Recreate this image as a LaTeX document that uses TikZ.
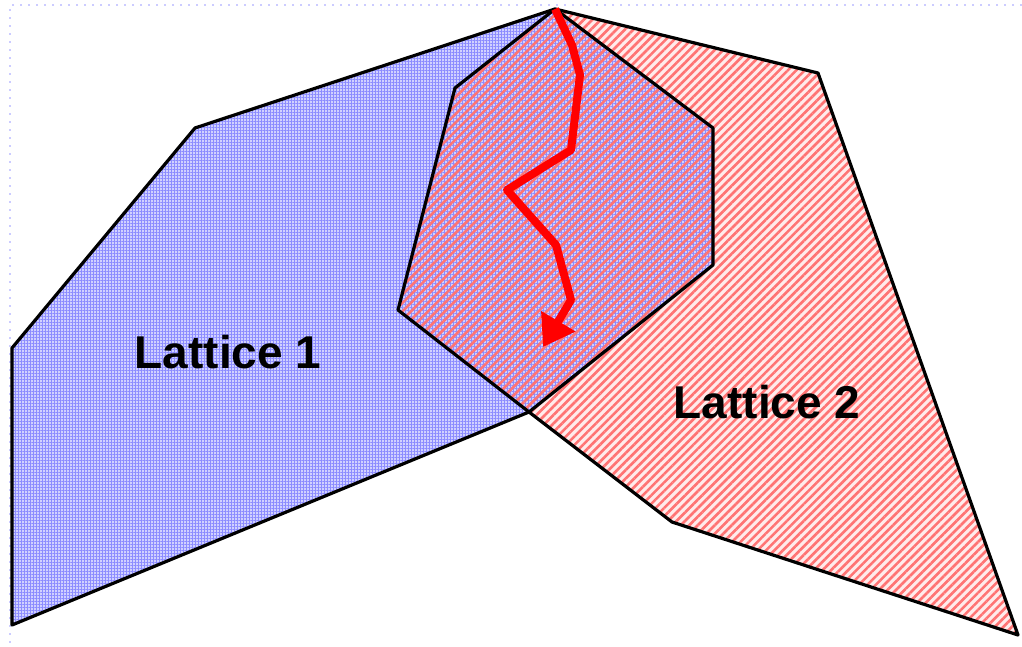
\documentclass[tikz,border=0pt]{standalone}
\usepackage{fontspec}
\setmainfont{Liberation Sans}
\usetikzlibrary{patterns.meta, arrows.meta}

\tikzset{
  lattice one/.style = {pattern = {Hatch[angle=0, distance=3pt, line width=0.5pt]}, pattern color = blue!45},
  lattice two/.style = {pattern = {Lines[angle=45, distance=6pt, line width=2.6pt]}, pattern color = red!55},
  edge line/.style = {draw = black, line width=3.2pt, line join=round},
  label text/.style = {font=\fontsize{46}{52}\selectfont\bfseries},
}

\begin{document}
\begin{tikzpicture}[x=1pt, y=-1pt, > = Triangle]
    \useasboundingbox (0,0) rectangle (1022,646);

    % faint frame of the slide
    \draw[blue!20, line width=2pt, dash pattern=on 2pt off 6pt] (1022,5) -- (10,5) -- (10,646);

    % corners
    \coordinate (top) at (555,9);
    \coordinate (low) at (529,412);

    % lattice 1
    \fill[blue!18] (12,348) -- (195,128) -- (top) -- (low) -- (12,625) -- cycle;
    \fill[lattice one] (12,348) -- (195,128) -- (top) -- (low) -- (12,625) -- cycle;
    \draw[edge line] (low) -- (12,625) -- (12,348) -- (195,128) -- (top);

    % lattice 2
    \fill[red!8] (top) -- (818,73) -- (1018,635) -- (672,522) -- (low) -- cycle;
    \fill[lattice two] (top) -- (818,73) -- (1018,635) -- (672,522) -- (low) -- cycle;
    \draw[edge line] (top) -- (818,73) -- (1018,635) -- (672,522) -- (low);

    % overlap
    \fill[blue!18] (top) -- (713,128) -- (713,265) -- (low) -- (398,310) -- (455,88) -- cycle;
    \fill[lattice one] (top) -- (713,128) -- (713,265) -- (low) -- (398,310) -- (455,88) -- cycle;
    \fill[lattice two] (top) -- (713,128) -- (713,265) -- (low) -- (398,310) -- (455,88) -- cycle;
    \draw[edge line] (top) -- (713,128) -- (713,265) -- (low) -- (398,310) -- (455,88) -- cycle;

    % path across the overlap
    \draw[red, line width=8pt, line join=round, -{Triangle[length=30pt, width=38pt]}]
      (top) -- (572,45) -- (580,75) -- (571,150) -- (507,190) -- (556,245) -- (571,300) -- (543,347);

    \node[label text] (l1) at (228,352) {Lattice 1};
    \node[label text] (l2) at (767,402) {Lattice 2};
\end{tikzpicture}
\end{document}
